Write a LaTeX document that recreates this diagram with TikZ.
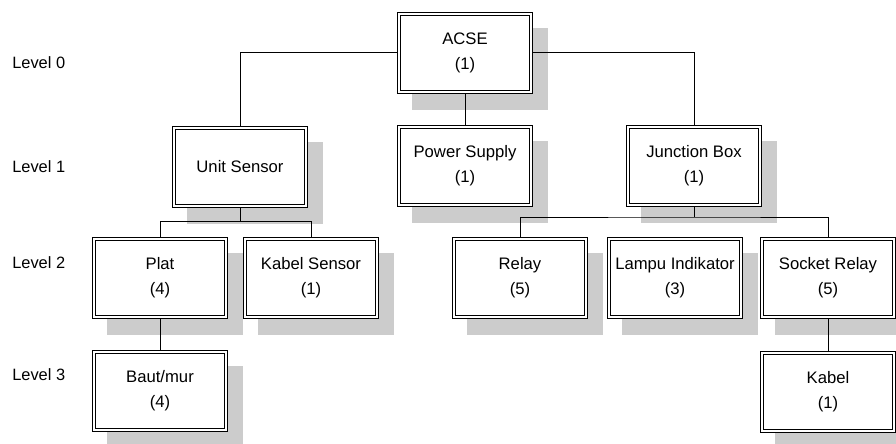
\documentclass[tikz,border=0pt]{standalone}
\usepackage{fontspec}
\setmainfont{Liberation Sans}
\usetikzlibrary{backgrounds,calc}
\begin{document}
\begin{tikzpicture}[x=0.75pt,y=-0.75pt,
  box/.style={draw=black, line width=0.75pt, double=white, double distance=1.5pt,
    fill=white, minimum width=99pt, minimum height=58.5pt, align=center,
    inner sep=0pt, outer sep=1.5pt, font=\fontsize{12.5}{18.75}\selectfont},
  conn/.style={draw=black, line width=0.75pt},
  shade/.style={fill=black!20},
  lvl/.style={anchor=west, inner sep=0pt, font=\fontsize{12.3}{14}\selectfont}]
\useasboundingbox (0,0) rectangle (896,443);

% level labels
\node[lvl] (l0) at (12,63) {Level 0};
\node[lvl] (l1) at (12,167) {Level 1};
\node[lvl] (l2) at (12,263) {Level 2};
\node[lvl] (l3) at (12,375) {Level 3};

% boxes
\node[box] (acse) at (465,52.5) {ACSE\\(1)};
\node[box] (us) at (240,166.5) {Unit Sensor};
\node[box] (ps) at (465,166) {Power Supply\\(1)};
\node[box] (jb) at (694,166) {Junction Box\\(1)};
\node[box] (plat) at (160,278) {Plat\\(4)};
\node[box] (ks) at (311,278) {Kabel Sensor\\(1)};
\node[box] (relay) at (520,278) {Relay\\(5)};
\node[box] (lampu) at (675,278) {Lampu Indikator\\(3)};
\node[box] (sr) at (828,278) {Socket Relay\\(5)};
\node[box] (baut) at (160,391) {Baut/mur\\(4)};
\node[box] (kabel) at (828,392) {Kabel\\(1)};

% shadows
\begin{scope}[on background layer]
\foreach \n in {acse,us,ps,jb,plat,ks,relay,lampu,sr,baut,kabel}
  \fill[shade] ([shift={(15,16)}]\n.south west) rectangle ([shift={(15,16)}]\n.north east);
\end{scope}

% connectors
\draw[conn] (acse.west) -| (us.north);
\draw[conn] (acse.east) -| (jb.north);
\draw[conn] (acse.south) -- (ps.north);

\coordinate (usb) at ($(us.south)+(0,14)$);
\draw[conn] (us.south) -- (usb);
\draw[conn] (plat.north) |- (usb) -| (ks.north);

\coordinate (jbb) at ($(jb.south)+(0,10)$);
\draw[conn] (jb.south) -- (jbb);
\draw[conn] (relay.north) |- (jbb) -| (sr.north);

\draw[conn] (plat.south) -- (baut.north);
\draw[conn] (sr.south) -- (kabel.north);
\end{tikzpicture}
\end{document}
